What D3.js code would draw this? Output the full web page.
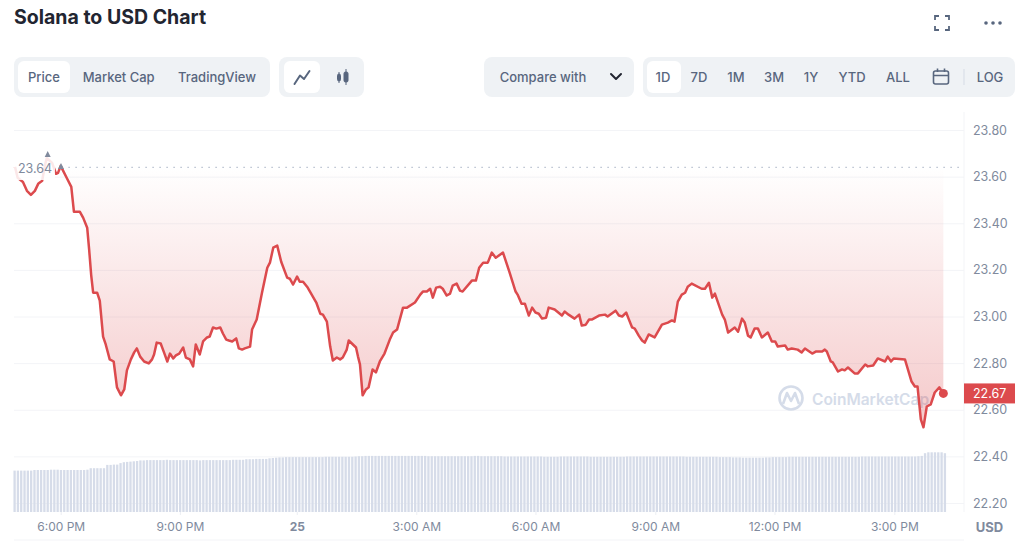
<!DOCTYPE html>
<html><head><meta charset="utf-8">
<script src="https://cdn.jsdelivr.net/npm/d3@7"></script>
<style>html,body{margin:0;padding:0;background:#fff;overflow:hidden}svg{display:block;font-family:Inter,"Noto Sans",sans-serif}</style>
</head><body><svg id="c" width="1024" height="541"></svg>
<script>
const title = "Solana to USD Chart";
const viewTabs = ["Price","Market Cap","TradingView"];
const rangeTabs = ["1D","7D","1M","3M","1Y","YTD","ALL"];
const priceTicks = [22.2,22.4,22.6,22.8,23.0,23.2,23.4,23.6,23.8];
const timeTickMinutes = [0,180,356.5,537,717,898,1078,1259];
const timeTickLabels = ["6:00 PM","9:00 PM","25","3:00 AM","6:00 AM","9:00 AM","12:00 PM","3:00 PM"];
const highPrice = 23.64;
const lastPrice = 22.67;
// minutes after 6:00 PM
const minutes = [-69,-65,-57,-51,-45,-39,-34,-28,-24,-21,-13,-7,-4,0,3,9,16,20,29,34,40,43,46,49,55,59,64,68,74,80,85,91,96,100,106,111,115,120,126,133,138,141,145,151,156,161,165,170,174,179,185,189,195,200,204,210,215,221,225,230,235,241,245,250,254,259,265,269,274,278,286,289,296,304,312,316,321,327,333,342,346,351,357,361,366,373,386,392,396,402,407,411,417,422,426,432,435,446,449,452,456,461,465,471,476,482,489,497,502,508,517,523,535,543,547,553,558,562,567,573,577,583,588,592,598,603,607,621,627,632,638,645,651,657,668,678,687,690,696,701,707,712,717,722,727,733,737,746,757,761,767,776,783,787,793,798,802,813,822,826,838,843,848,854,857,863,867,873,878,882,888,897,908,917,923,927,932,938,943,947,953,968,973,979,984,988,999,1003,1008,1018,1023,1029,1033,1038,1042,1048,1053,1059,1068,1074,1079,1083,1094,1098,1104,1113,1119,1124,1135,1141,1150,1154,1157,1163,1166,1174,1180,1184,1189,1199,1204,1215,1219,1227,1234,1245,1249,1254,1258,1275,1285,1290,1294,1299,1303,1308,1314,1320,1327,1333];
const prices = [23.642,23.595,23.577,23.539,23.522,23.539,23.569,23.582,23.646,23.680,23.659,23.612,23.616,23.646,23.629,23.595,23.556,23.449,23.449,23.423,23.381,23.286,23.179,23.102,23.102,23.068,22.914,22.880,22.816,22.807,22.696,22.662,22.687,22.769,22.816,22.846,22.863,22.828,22.807,22.799,22.816,22.837,22.888,22.884,22.846,22.807,22.841,22.820,22.833,22.841,22.867,22.824,22.816,22.786,22.880,22.837,22.893,22.910,22.914,22.953,22.948,22.953,22.927,22.901,22.897,22.893,22.906,22.863,22.858,22.863,22.871,22.944,22.987,23.102,23.209,23.231,23.295,23.304,23.235,23.167,23.162,23.137,23.171,23.149,23.149,23.124,23.060,23.012,23.008,22.978,22.871,22.811,22.824,22.816,22.824,22.858,22.897,22.867,22.828,22.794,22.662,22.687,22.696,22.773,22.760,22.807,22.841,22.901,22.931,22.944,23.038,23.038,23.060,23.094,23.107,23.107,23.119,23.081,23.124,23.128,23.119,23.090,23.098,23.132,23.141,23.111,23.107,23.154,23.154,23.209,23.231,23.231,23.274,23.252,23.274,23.188,23.107,23.094,23.055,23.055,23.004,23.038,23.017,23.012,22.991,22.995,23.038,23.030,23.004,23.021,23.008,22.991,23.008,22.961,22.965,22.987,22.987,23.004,23.008,23.000,23.025,23.004,23.000,23.017,22.995,22.953,22.948,22.918,22.897,22.888,22.923,22.910,22.965,22.974,22.983,22.978,23.064,23.094,23.102,23.128,23.141,23.119,23.119,23.145,23.081,23.098,23.008,22.987,22.931,22.953,22.935,22.991,22.974,22.918,22.910,22.948,22.948,22.910,22.931,22.893,22.893,22.871,22.876,22.858,22.863,22.858,22.846,22.863,22.841,22.850,22.850,22.858,22.850,22.807,22.803,22.764,22.773,22.769,22.781,22.756,22.756,22.794,22.786,22.790,22.820,22.807,22.828,22.807,22.820,22.816,22.721,22.700,22.700,22.559,22.525,22.614,22.623,22.674,22.696,22.67];
// 24h volume (USD billions), one bar every five minutes starting 70 minutes before 6:00 PM
const volumes = [
1.38,1.38,1.38,1.38,1.38,1.38,1.40,1.40,1.40,1.40,1.40,1.41,1.41,1.41,1.40,1.40,1.40,1.40,1.40,1.40,
1.40,1.40,1.41,1.46,1.46,1.46,1.46,1.46,1.57,1.57,1.58,1.58,1.63,1.66,1.67,1.68,1.69,1.70,1.72,1.72,
1.73,1.73,1.73,1.73,1.73,1.73,1.74,1.73,1.73,1.73,1.73,1.73,1.73,1.73,1.73,1.73,1.72,1.73,1.73,1.73,
1.73,1.73,1.73,1.73,1.73,1.73,1.74,1.74,1.74,1.74,1.76,1.76,1.76,1.77,1.77,1.77,1.77,1.79,1.80,1.81,
1.82,1.82,1.83,1.83,1.83,1.83,1.83,1.83,1.83,1.83,1.83,1.83,1.83,1.83,1.84,1.84,1.84,1.84,1.84,1.84,
1.84,1.84,1.84,1.85,1.86,1.86,1.87,1.87,1.87,1.87,1.87,1.87,1.87,1.87,1.87,1.87,1.87,1.87,1.87,1.87,
1.87,1.87,1.87,1.87,1.87,1.86,1.86,1.86,1.86,1.86,1.86,1.86,1.86,1.86,1.86,1.86,1.86,1.86,1.86,1.87,
1.87,1.86,1.86,1.86,1.86,1.86,1.86,1.86,1.85,1.85,1.85,1.85,1.85,1.85,1.85,1.85,1.85,1.85,1.85,1.85,
1.84,1.84,1.84,1.84,1.84,1.85,1.85,1.85,1.85,1.85,1.85,1.85,1.85,1.85,1.84,1.84,1.84,1.84,1.84,1.84,
1.84,1.84,1.84,1.84,1.84,1.85,1.85,1.85,1.85,1.85,1.85,1.85,1.85,1.85,1.85,1.85,1.85,1.85,1.85,1.85,
1.85,1.85,1.85,1.84,1.84,1.84,1.84,1.84,1.84,1.84,1.84,1.84,1.84,1.83,1.83,1.83,1.83,1.82,1.82,1.82,
1.81,1.81,1.81,1.81,1.81,1.81,1.81,1.82,1.82,1.83,1.83,1.83,1.83,1.83,1.84,1.84,1.84,1.84,1.84,1.84,
1.84,1.84,1.84,1.84,1.84,1.84,1.84,1.84,1.84,1.84,1.84,1.84,1.84,1.84,1.84,1.84,1.85,1.85,1.85,1.85,
1.85,1.85,1.85,1.85,1.85,1.85,1.85,1.85,1.85,1.85,1.85,1.85,1.85,1.86,1.87,1.96,1.99,1.99,1.99,1.99,
1.99,1.96];

const svg = d3.select("#c");
const x = d3.scaleLinear().domain([0,1260]).range([60.7,895]);
const y = d3.scaleLinear().domain([22.2,23.8]).range([503,130]);
const yVol = d3.scaleLinear().domain([0,2]).range([512,452]);
const series = minutes.map((m,i)=>({m,p:prices[i]}));
const RED="#dc4a4d", GREY="#808a9d", SLATE="#58667e", PANEL="#eff2f5";

// header
svg.append("text").attr("x",14).attr("y",23.5).attr("font-size",19.5).attr("font-weight",700).attr("fill","#222531").text(title);
function panel(x0,x1){svg.append("rect").attr("x",x0).attr("y",57).attr("width",x1-x0).attr("height",40).attr("rx",8).attr("fill",PANEL);}
function tab(x0,x1){svg.append("rect").attr("x",x0).attr("y",61).attr("width",x1-x0).attr("height",32).attr("rx",6).attr("fill","#fff");}
function label(t,cx,w=500){svg.append("text").attr("x",cx).attr("y",81.5).attr("text-anchor","middle").attr("font-size",13).attr("font-weight",w).attr("fill",SLATE).text(t);}
panel(14,270);tab(18,70);
[44,118.7,217].forEach((c,i)=>label(viewTabs[i],c));
panel(279,364);tab(284,320);
svg.append("path").attr("d","M294.5 84L300 75.5L304 79L309.5 71").attr("fill","none").attr("stroke",SLATE).attr("stroke-width",2).attr("stroke-linejoin","round").attr("stroke-linecap","round");
const cd=svg.append("g").attr("fill",SLATE).attr("stroke",SLATE);
cd.append("rect").attr("x",337.5).attr("y",74).attr("width",3).attr("height",7).attr("rx",1.5);
cd.append("line").attr("x1",339).attr("x2",339).attr("y1",72).attr("y2",83);
cd.append("rect").attr("x",344).attr("y",72).attr("width",4).attr("height",10).attr("rx",1.5);
cd.append("line").attr("x1",346).attr("x2",346).attr("y1",69).attr("y2",85);
panel(484,634);
label("Compare with",543);
svg.append("path").attr("d","M611 74L616 79L621 74").attr("fill","none").attr("stroke","#222531").attr("stroke-width",2).attr("stroke-linecap","round").attr("stroke-linejoin","round");
panel(643,1015);tab(647,681);
[663,699,736,774,811,852,898].forEach((c,i)=>label(rangeTabs[i],c));
const cal=svg.append("g").attr("fill","none").attr("stroke",SLATE).attr("stroke-width",1.6);
cal.append("rect").attr("x",933.5).attr("y",71).attr("width",15).attr("height",13).attr("rx",2);
cal.append("path").attr("d","M933.5 75.5H948.5M937.5 68.5V72M944.5 68.5V72");
svg.append("line").attr("x1",964).attr("x2",964).attr("y1",69).attr("y2",85).attr("stroke","#d5dbe5");
label("LOG",990);
svg.append("path").attr("d","M935 20V16H939M945 16H949V20M949 26V30H945M939 30H935V26").attr("fill","none").attr("stroke",SLATE).attr("stroke-width",1.8);
[986,993,1000].forEach(c=>svg.append("circle").attr("cx",c).attr("cy",23).attr("r",1.8).attr("fill",SLATE));

// frame and price axis
const yAxis = d3.axisRight(y).tickValues(priceTicks).tickFormat(d3.format(".2f")).tickSize(-950).tickPadding(9);
const ga = svg.append("g").attr("transform","translate(964,0)").call(yAxis);
ga.select(".domain").remove();
ga.selectAll("line").attr("stroke","#f3f4f7");
ga.selectAll("text").attr("font-size",12.5).attr("font-family","Inter").attr("fill",GREY);
svg.append("line").attr("x1",964).attr("x2",964).attr("y1",112).attr("y2",512).attr("stroke","#f3f4f7");
svg.append("line").attr("x1",14).attr("x2",964).attr("y1",540).attr("y2",540).attr("stroke","#f3f4f7");

// watermark
const wm=svg.append("g");
wm.append("circle").attr("cx",791).attr("cy",398).attr("r",11.5).attr("fill","none").attr("stroke","#d5dce9").attr("stroke-width",2.6);
wm.append("path").attr("d","M783 404L787 393L791 401L795 393L799 404").attr("fill","none").attr("stroke","#d5dce9").attr("stroke-width",2.6).attr("stroke-linejoin","round");
wm.append("text").attr("x",812).attr("y",405).attr("font-size",15.5).attr("font-weight",600).attr("fill","#d5dce9").text("CoinMarketCap");

// volume bars
svg.append("g").selectAll("rect").data(volumes).join("rect")
  .attr("x",(d,i)=>x(-70+5*i)-0.9).attr("width",2.3)
  .attr("y",d=>yVol(d)).attr("height",d=>yVol(0)-yVol(d)).attr("fill","#d6dce9");

// price area and line
const grad=svg.append("defs").append("linearGradient").attr("id","g").attr("gradientUnits","userSpaceOnUse")
  .attr("x1",0).attr("x2",0).attr("y1",y(highPrice)).attr("y2",y(22.52));
grad.append("stop").attr("offset",0).attr("stop-color",RED).attr("stop-opacity",0);
grad.append("stop").attr("offset",1).attr("stop-color",RED).attr("stop-opacity",0.3);
svg.append("path").datum(series).attr("fill","url(#g)")
  .attr("d",d3.area().x(d=>x(d.m)).y0(y(highPrice)).y1(d=>Math.max(y(d.p),y(highPrice))));
svg.append("line").attr("x1",x(1)).attr("x2",964).attr("y1",y(highPrice)).attr("y2",y(highPrice))
  .attr("stroke","#a6b0c3").attr("stroke-width",1).attr("stroke-dasharray","1.5 5.5");
svg.append("path").datum(series).attr("fill","none").attr("stroke",RED).attr("stroke-width",2.5).attr("stroke-linejoin","round")
  .attr("d",d3.line().x(d=>x(d.m)).y(d=>y(d.p)));
svg.append("circle").attr("cx",x(minutes[minutes.length-1])).attr("cy",y(lastPrice)).attr("r",4.5).attr("fill",RED);

// high marker
svg.append("rect").attr("x",14).attr("y",146).attr("width",41).attr("height",34).attr("fill","#fff").attr("fill-opacity",0.87);
svg.append("text").attr("x",18).attr("y",173).attr("font-size",12.5).attr("fill",GREY).text(highPrice.toFixed(2));
[[47.7,151],[61,163]].forEach(([a,b])=>svg.append("path").attr("d",`M${a} ${b}l3 6h-6z`).attr("fill",GREY));

// last price tag
svg.append("rect").attr("x",964).attr("y",y(lastPrice)-10).attr("width",51).attr("height",20).attr("fill",RED);
svg.append("text").attr("x",973).attr("y",y(lastPrice)+4.5).attr("font-size",12.5).attr("fill","#fff").text(lastPrice.toFixed(2));

// time axis
const xAxis = d3.axisBottom(x).tickValues(timeTickMinutes).tickFormat((d,i)=>timeTickLabels[i]).tickSize(3).tickPadding(7);
const gx = svg.append("g").attr("transform","translate(0,512)").call(xAxis);
gx.select(".domain").remove();
gx.selectAll("line").attr("stroke","#eceef3");
gx.selectAll("text").attr("font-size",12).attr("font-family","Inter").attr("fill",GREY)
  .attr("font-weight",(d,i)=>timeTickLabels[i]==="25"?700:400);
svg.append("text").attr("x",989.5).attr("y",532).attr("text-anchor","middle").attr("font-size",13).attr("font-weight",700).attr("fill",GREY).text("USD");
</script></body></html>
